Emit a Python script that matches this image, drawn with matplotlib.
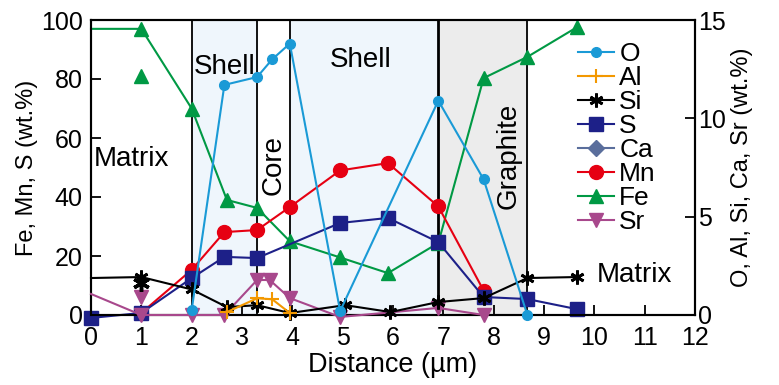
import numpy as np
import matplotlib
matplotlib.use('Agg')
import matplotlib.pyplot as plt
from matplotlib.lines import Line2D

plt.rcParams['font.family'] = ['Liberation Sans', 'DejaVu Sans']

# left axis series (Fe, Mn, S)
fe_x = [0, 1, 2, 2.7, 3.3, 3.95, 4.95, 5.9, 6.9, 7.8, 8.67, 9.65]
fe_y = [97, 97, 70, 39, 36.3, 25, 19.5, 14.2, 24.4, 80.3, 87.5, 97.5]
mn_x = [1, 2, 2.65, 3.3, 3.95, 4.95, 5.9, 6.9, 7.8]
mn_y = [0.7, 15.3, 28.1, 28.8, 36.6, 49, 51.5, 36.8, 8.3]
s_x = [0, 1, 2, 2.65, 3.3, 4.95, 5.9, 6.9, 7.8, 8.67, 9.65]
s_y = [-1, 0.7, 12.5, 19.7, 19.3, 31.2, 32.9, 24.7, 6.1, 5.4, 2]
fe_extra_x, fe_extra_y = [1], [81]

# right axis series (O, Al, Si, Ca, Sr)
o_x = [2, 2.65, 3.3, 3.6, 3.95, 4.95, 6.9, 7.8, 8.67]
o_y = [0.25, 11.7, 12.1, 13.0, 13.8, 0.2, 10.9, 6.9, 0]
al_x = [2.7, 3.3, 3.6, 3.95]
al_y = [0.15, 0.85, 0.8, 0.1]
si_x = [0, 1, 2, 2.7, 3.3, 3.95, 5.05, 5.95, 6.9, 7.8, 8.67, 9.65]
si_y = [1.88, 1.93, 1.3, 0.4, 0.5, 0.1, 0.5, 0.15, 0.66, 0.86, 1.88, 1.93]
si_extra_x, si_extra_y = [1], [1.63]
ca_x, ca_y = [], []
sr_x = [0, 1, 2, 2.65, 3.3, 3.55, 3.95, 4.95, 6.9, 7.8]
sr_y = [1.07, 0, 0, 0, 1.78, 1.78, 0.86, -0.1, 0.36, 0]
sr_extra_x, sr_extra_y = [1], [0.9]

# region boundaries (Shell | Core | Shell | Graphite)
region_edges = [2.0, 3.3, 3.95, 6.9, 8.67]

c_o = '#1a9ad6'
c_al = '#f39800'
c_si = 'black'
c_s = '#1d2088'
c_ca = '#5a6e9c'
c_mn = '#e60012'
c_fe = '#009944'
c_sr = '#a8488c'
shell = '#eff6fc'
graph = '#ececec'

fig = plt.figure(figsize=(7.79, 3.85), dpi=100)
ax = fig.add_axes([91/779, 1-315/385, (695-91)/779, 295/385])
ax2 = ax.twinx()

ax.axvspan(region_edges[0], region_edges[1], color=shell, zorder=0)
ax.axvspan(region_edges[2], region_edges[3], color=shell, zorder=0)
ax.axvspan(region_edges[3], region_edges[4], color=graph, zorder=0)
for i, e in enumerate(region_edges):
    ax.axvline(e, color='black', lw=2.0 if i == 3 else 1.3, zorder=1)

asterisk = (6, 2, 0)
ms = 10

ax.plot(fe_x, fe_y, color=c_fe, lw=1.5, marker='^', ms=ms, markevery=list(range(1, len(fe_x))), clip_on=False, zorder=3)
ax.plot(fe_extra_x, fe_extra_y, ls='none', color=c_fe, marker='^', ms=ms, clip_on=False, zorder=3)
ax.plot(mn_x, mn_y, color=c_mn, lw=1.5, marker='o', ms=ms, clip_on=False, zorder=3)
ax.plot(s_x, s_y, color=c_s, lw=1.5, marker='s', ms=ms, clip_on=False, zorder=4)

ax2.plot(sr_x, sr_y, color=c_sr, lw=1.5, marker='v', ms=ms, markevery=list(range(1, len(sr_x))), clip_on=False, zorder=3)
ax2.plot(sr_extra_x, sr_extra_y, ls='none', color=c_sr, marker='v', ms=ms, clip_on=False, zorder=3)
ax2.plot(si_x, si_y, color=c_si, lw=1.5, marker=asterisk, ms=ms, mew=2, markevery=list(range(1, len(si_x))), clip_on=False, zorder=3)
ax2.plot(si_extra_x, si_extra_y, ls='none', color=c_si, marker=asterisk, ms=ms + 2, mew=2.5, clip_on=False, zorder=3)
ax2.plot(al_x, al_y, color=c_al, lw=1.5, marker='+', ms=ms, mew=1.5, clip_on=False, zorder=3)
ax2.plot(ca_x, ca_y, color=c_ca, lw=1.5, marker='D', ms=8)
ax2.plot(o_x, o_y, color=c_o, lw=1.5, marker='o', ms=7, clip_on=False, zorder=4)

ax.set_xlim(0, 12)
ax.set_ylim(0, 100)
ax2.set_ylim(0, 15)
ax.set_xticks(range(0, 13))
ax.set_yticks(range(0, 101, 20))
ax2.set_yticks([0, 5, 10, 15])
ax.tick_params(axis='x', direction='in', length=7, width=1.3, labelsize=18, pad=8)
ax.tick_params(axis='y', direction='in', length=7, width=1.3, labelsize=18, pad=6)
ax2.tick_params(direction='in', length=7, width=1.3, labelsize=18, pad=2)
for a in (ax, ax2):
    for sp in a.spines.values():
        sp.set_linewidth(1.5)
ax.set_xlabel('Distance (µm)', fontsize=19.5, labelpad=1)
ax.set_ylabel('Fe, Mn, S (wt.%)', fontsize=17, labelpad=2)
ax2.set_ylabel('O, Al, Si, Ca, Sr (wt.%)', fontsize=17, labelpad=4)

ax.text(2.65, 84, 'Shell', fontsize=20, ha='center', va='center')
ax.text(5.35, 86.5, 'Shell', fontsize=20, ha='center', va='center')
ax.text(0.8, 53, 'Matrix', fontsize=20, ha='center', va='center')
ax.text(3.62, 51, 'Core', fontsize=20, ha='center', va='center', rotation=90)
ax.text(8.3, 54, 'Graphite', fontsize=20, ha='center', va='center', rotation=90)
ax.text(10.8, 13.5, 'Matrix', fontsize=20, ha='center', va='center')

handles = [
    Line2D([], [], color=c_o, lw=1.5, marker='o', ms=7),
    Line2D([], [], color=c_al, lw=1.5, marker='+', ms=ms, mew=1.5),
    Line2D([], [], color=c_si, lw=1.5, marker=asterisk, ms=ms, mew=2),
    Line2D([], [], color=c_s, lw=1.5, marker='s', ms=ms),
    Line2D([], [], color=c_ca, lw=1.5, marker='D', ms=8),
    Line2D([], [], color=c_mn, lw=1.5, marker='o', ms=ms),
    Line2D([], [], color=c_fe, lw=1.5, marker='^', ms=ms),
    Line2D([], [], color=c_sr, lw=1.5, marker='v', ms=ms),
]
labels = ['O', 'Al', 'Si', 'S', 'Ca', 'Mn', 'Fe', 'Sr']
ax2.legend(handles, labels, loc='upper left', bbox_to_anchor=(0.807, 0.925), frameon=False,
           fontsize=19, handlelength=1.35, handletextpad=0.2, labelspacing=0.0,
           borderpad=0, borderaxespad=0)

fig.savefig('out.png', dpi=100)
